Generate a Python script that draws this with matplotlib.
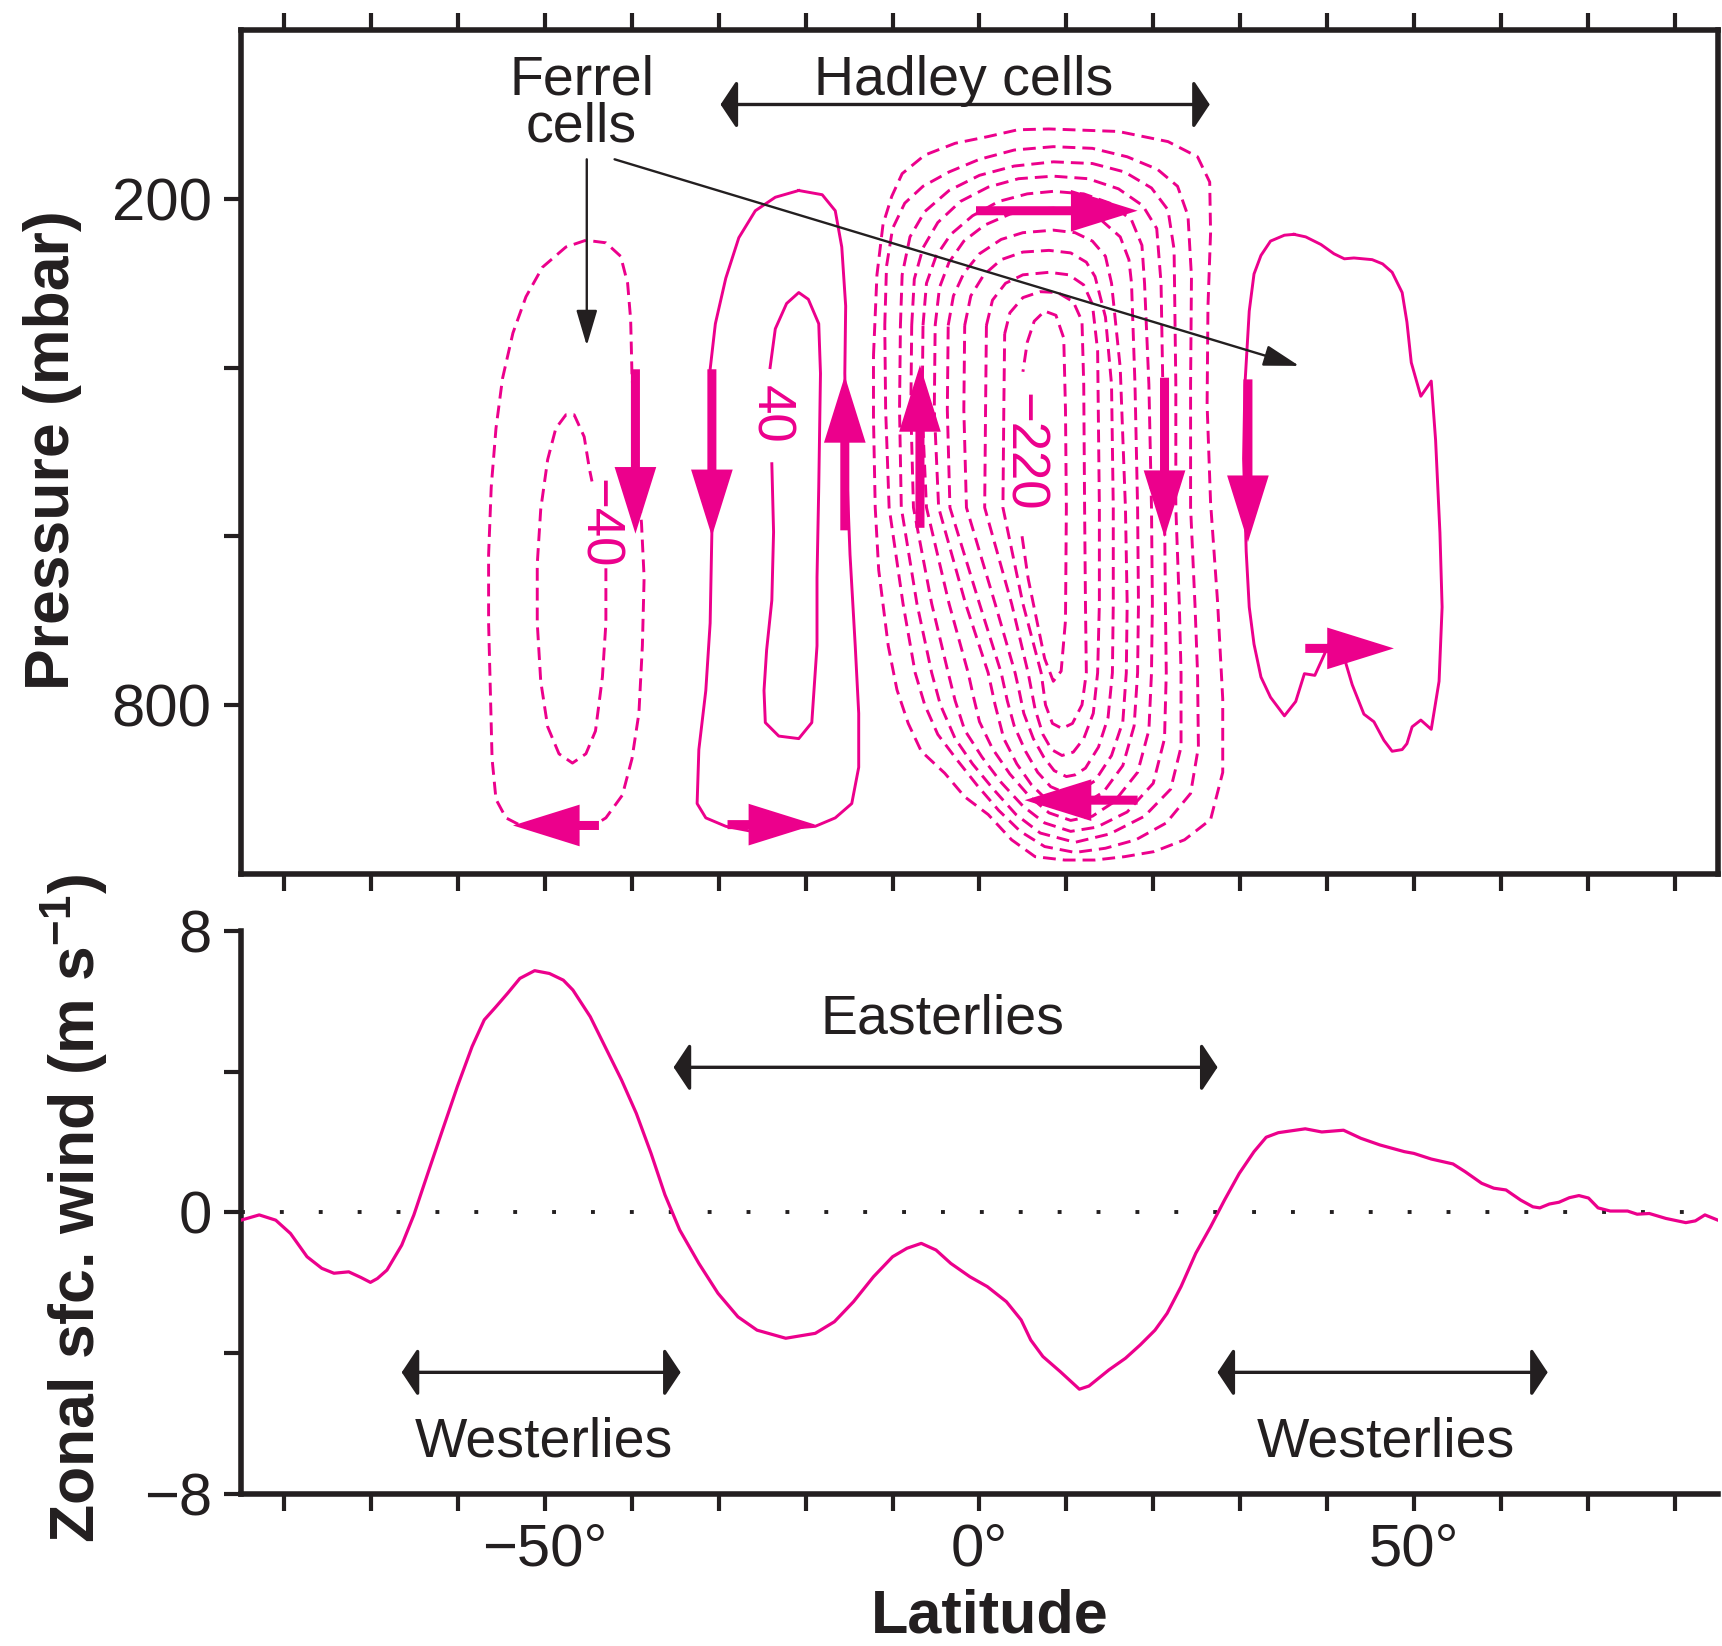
import numpy as np
import matplotlib.pyplot as plt
from matplotlib.patches import FancyArrowPatch

plt.rcParams['font.family'] = ['Liberation Sans', 'DejaVu Sans']
plt.rcParams['mathtext.fontset'] = 'custom'
plt.rcParams['mathtext.rm'] = 'Liberation Sans'
plt.rcParams['mathtext.bf'] = 'Liberation Sans:bold'

MAG = '#EC008C'
INK = '#231F20'

# lower panel: zonal surface wind (m/s) against latitude
wind_lat = [-85.0, -82.9, -81.0, -79.3, -77.4, -75.7, -74.3, -72.6, -71.2, -70.1,
            -69.3, -68.2, -66.5, -65.1, -63.5, -61.8, -60.1, -58.4, -57.0, -55.7,
            -54.3, -52.9, -51.2, -49.5, -47.9, -46.8, -44.8, -42.9, -41.2, -39.5,
            -37.8, -36.2, -34.5, -32.3, -30.1, -27.8, -25.6, -22.3, -18.9, -16.7,
            -14.5, -12.2, -10.0, -8.35, -6.7, -5.0, -3.3, -1.1, 0.9, 3.1,
            4.8, 5.9, 7.3, 9.3, 11.5, 12.6, 14.9, 16.8, 18.5, 20.2,
            21.6, 23.2, 24.9, 26.6, 28.2, 29.9, 31.6, 33.0, 34.4, 37.5,
            39.4, 41.9, 43.9, 46.1, 48.9, 50.0, 52.0, 54.5, 55.9, 57.8,
            59.2, 60.6, 62.3, 63.7, 64.5, 65.6, 66.7, 67.9, 69.0, 70.1,
            71.2, 72.6, 74.6, 75.7, 77.1, 79.0, 81.3, 82.4, 83.5, 85.0]
wind_u = [-0.22, -0.07, -0.22, -0.6, -1.26, -1.59, -1.73, -1.69, -1.85, -1.99,
          -1.88, -1.64, -0.93, -0.07, 1.11, 2.35, 3.58, 4.72, 5.48, 5.84,
          6.24, 6.66, 6.88, 6.80, 6.61, 6.33, 5.57, 4.62, 3.77, 2.82,
          1.68, 0.50, -0.5, -1.45, -2.30, -2.97, -3.35, -3.58, -3.44, -3.11,
          -2.54, -1.83, -1.26, -1.02, -0.88, -1.07, -1.45, -1.83, -2.11, -2.54,
          -3.06, -3.63, -4.1, -4.53, -5.03, -4.94, -4.48, -4.15, -3.77, -3.35,
          -2.87, -2.11, -1.16, -0.41, 0.35, 1.11, 1.73, 2.14, 2.27, 2.38,
          2.29, 2.34, 2.11, 1.92, 1.73, 1.68, 1.52, 1.38, 1.16, 0.83,
          0.69, 0.64, 0.35, 0.16, 0.13, 0.24, 0.29, 0.42, 0.48, 0.41,
          0.13, 0.04, 0.04, -0.05, -0.03, -0.17, -0.29, -0.24, -0.07, -0.22]

# upper panel: streamfunction contours traced as (latitude, pressure in mbar)
ferrel_s_outer = [(-45.3, 249), (-47.6, 257), (-50.3, 281), (-52.2, 316), (-53.7, 359),
                  (-54.9, 413), (-55.65, 472), (-56.2, 542), (-56.5, 622), (-56.5, 703),
                  (-56.3, 783), (-56.1, 864), (-55.65, 912), (-54.5, 934), (-53.0, 942),
                  (-50.3, 947), (-47.2, 950), (-44.55, 944), (-43.0, 934), (-41.1, 907),
                  (-40.0, 864), (-39.2, 810), (-38.8, 730), (-38.6, 649), (-38.9, 585),
                  (-39.6, 488), (-40.0, 407), (-40.15, 343), (-40.5, 300), (-41.3, 268),
                  (-43.0, 252)]
ferrel_s_inner = [(-43.0, 638), (-43.0, 703), (-43.4, 767), (-44.2, 831), (-45.3, 858),
                  (-46.85, 869), (-48.4, 858), (-49.7, 826), (-50.5, 772), (-50.9, 703),
                  (-50.9, 633), (-50.5, 568), (-49.7, 509), (-48.76, 472), (-47.6, 456),
                  (-46.65, 456), (-45.5, 482), (-44.9, 520), (-44.6, 535)]
hadley_s_outer = [(-20.8, 190), (-23.5, 198), (-25.8, 214), (-27.7, 246), (-29.2, 294),
                  (-30.4, 348), (-31.0, 402), (-31.0, 488), (-30.8, 595), (-31.0, 703),
                  (-31.5, 783), (-32.3, 853), (-32.5, 917), (-31.5, 934), (-29.2, 944),
                  (-26.2, 950), (-22.4, 947), (-18.9, 944), (-16.6, 934), (-14.7, 917),
                  (-13.9, 874), (-13.9, 810), (-14.3, 730), (-14.9, 622), (-15.3, 515),
                  (-15.5, 407), (-15.4, 327), (-15.85, 257), (-16.6, 214), (-18.1, 195)]
hadley_s_inner = [(-23.9, 514), (-23.7, 595), (-23.9, 676), (-24.5, 735), (-24.8, 783),
                  (-24.65, 821), (-23.1, 837), (-20.8, 840), (-19.3, 821), (-18.7, 730),
                  (-18.7, 649), (-18.5, 542), (-18.3, 407), (-18.5, 348), (-19.7, 319),
                  (-20.8, 311), (-22.2, 324), (-23.5, 354), (-24.1, 400)]
hadley_n = [
    [(-12.2, 386), (-11.8, 290), (-11.1, 230), (-10.1, 197), (-8.9, 170), (-6.3, 148),
     (-2.8, 134), (1.0, 126), (4.4, 118), (8.0, 117), (16.0, 120), (21.7, 132),
     (25.1, 150), (26.5, 180), (26.6, 240), (26.3, 327), (26.2, 444), (26.6, 560),
     (27.4, 677), (28.0, 793), (28.0, 880), (26.6, 936), (23.6, 960), (20.1, 974),
     (16.7, 980), (13.3, 984), (9.8, 984), (6.4, 980), (3.7, 960), (1.0, 930),
     (-1.7, 909), (-4.0, 881), (-6.7, 855), (-8.2, 822), (-9.5, 782), (-10.5, 730),
     (-11.6, 640), (-12.0, 566), (-12.2, 460)],
    [(-10.9, 350), (-10.7, 280), (-10.0, 235), (-8.6, 205), (-6.5, 185), (-3.5, 168),
     (0.0, 153), (4.0, 142), (8.5, 138), (13.0, 140), (17.0, 150), (20.5, 165),
     (22.8, 185), (24.0, 220), (24.4, 292), (24.3, 420), (24.3, 566), (24.8, 680),
     (25.1, 762), (25.2, 850), (24.3, 905), (21.5, 940), (18.0, 960), (14.5, 970),
     (11.0, 975), (7.5, 968), (4.7, 950), (2.2, 925), (-0.3, 895), (-2.6, 865),
     (-4.8, 835), (-6.3, 800), (-7.4, 762), (-8.8, 680), (-10.4, 566), (-10.8, 450)],
    [(-9.1, 350), (-8.9, 290), (-8.0, 245), (-6.3, 215), (-3.5, 190), (0.0, 172),
     (4.0, 161), (8.5, 156), (13.0, 158), (16.7, 168), (19.8, 187), (21.7, 213),
     (22.4, 260), (22.6, 420), (22.6, 566), (23.0, 680), (23.2, 762), (23.2, 850),
     (22.0, 900), (19.0, 932), (15.0, 953), (11.0, 963), (7.0, 952), (4.2, 930),
     (1.6, 900), (-0.8, 870), (-2.8, 840), (-4.5, 800), (-5.5, 762), (-7.2, 680),
     (-9.0, 566), (-9.2, 450)],
    [(-7.8, 350), (-7.5, 295), (-6.5, 258), (-4.8, 228), (-2.2, 203), (1.0, 186),
     (4.5, 176), (8.5, 173), (12.5, 176), (16.0, 188), (18.8, 208), (20.4, 235),
     (20.9, 300), (21.1, 420), (21.3, 566), (21.4, 680), (21.5, 762), (21.3, 840),
     (20.0, 893), (17.0, 927), (13.5, 945), (10.5, 950), (7.5, 940), (5.0, 920),
     (2.5, 892), (0.3, 862), (-1.7, 830), (-2.8, 795), (-3.6, 762), (-5.5, 680),
     (-7.6, 566), (-7.9, 450)],
    [(-6.5, 350), (-6.1, 300), (-5.0, 268), (-3.3, 242), (-0.8, 220), (2.2, 203),
     (5.5, 194), (8.5, 191), (12.0, 194), (15.0, 205), (17.5, 225), (18.7, 255),
     (19.0, 300), (19.5, 420), (19.8, 566), (19.9, 680), (19.8, 762), (19.5, 830),
     (18.2, 880), (15.5, 915), (13.0, 932), (10.5, 937), (8.0, 928), (5.7, 908),
     (3.5, 882), (1.5, 852), (0.0, 820), (-0.7, 790), (-1.3, 762), (-3.5, 680),
     (-6.1, 566), (-6.6, 450)],
    [(-5.1, 350), (-4.6, 305), (-3.5, 275), (-1.8, 250), (0.6, 231), (3.5, 218),
     (6.0, 212), (8.5, 211), (11.5, 214), (14.0, 225), (16.2, 245), (17.2, 272),
     (17.5, 300), (17.9, 420), (18.2, 566), (18.3, 680), (18.2, 762), (17.8, 825),
     (16.5, 872), (14.3, 903), (12.0, 918), (10.0, 922), (7.8, 913), (6.0, 895),
     (4.3, 870), (2.8, 840), (1.8, 800), (1.0, 762), (-1.6, 680), (-4.7, 566),
     (-5.2, 450)],
    [(-3.6, 350), (-3.0, 315), (-1.8, 288), (0.0, 265), (2.5, 248), (5.0, 240),
     (8.5, 237), (11.0, 240), (13.0, 250), (14.5, 268), (15.2, 300), (16.2, 400),
     (16.8, 566), (17.0, 680), (16.9, 762), (16.5, 820), (15.2, 860), (13.3, 890),
     (11.5, 902), (10.0, 905), (8.2, 897), (6.7, 880), (5.3, 855), (4.0, 825),
     (3.2, 795), (2.5, 762), (0.0, 680), (-3.4, 566), (-3.7, 450)],
    [(-1.7, 350), (-1.0, 315), (0.5, 290), (2.5, 272), (5.0, 263), (8.0, 261),
     (10.5, 264), (12.3, 275), (13.3, 292), (14.5, 340), (15.2, 420), (15.4, 566),
     (15.4, 680), (15.3, 762), (14.8, 815), (13.7, 850), (12.2, 875), (11.0, 883),
     (10.0, 885), (8.6, 878), (7.4, 862), (6.2, 840), (5.1, 810), (4.6, 785),
     (4.1, 762), (1.8, 680), (-1.5, 566), (-1.8, 450)],
    [(0.8, 350), (1.5, 320), (3.0, 300), (5.0, 290), (8.0, 287), (10.3, 290),
     (12.0, 302), (13.0, 325), (13.6, 380), (13.8, 566), (13.8, 680), (13.6, 762),
     (13.1, 810), (12.0, 840), (10.8, 856), (9.5, 860), (8.3, 853), (7.3, 835),
     (6.4, 805), (5.6, 762), (3.7, 680), (0.6, 566), (0.7, 450)],
    [(2.9, 360), (3.5, 335), (5.0, 317), (7.0, 310), (9.0, 311), (10.8, 322),
     (11.8, 345), (12.0, 420), (12.1, 566), (12.2, 680), (12.3, 762), (11.8, 800),
     (10.7, 822), (9.5, 828), (8.4, 822), (7.6, 800), (7.1, 762), (5.0, 680),
     (2.7, 566), (2.8, 450)],
    [(4.9, 600), (5.6, 650), (6.6, 700), (7.5, 745), (8.5, 772), (9.4, 760),
     (9.9, 700), (10.0, 566), (9.9, 450), (9.7, 365), (8.8, 338), (7.5, 333),
     (6.3, 345), (5.5, 370), (5.0, 405)],
]
ferrel_n = [(36.2, 242), (37.55, 245), (39.3, 254), (40.8, 265), (42.0, 271), (43.1, 270),
            (45.2, 272), (46.4, 277), (47.5, 287), (48.65, 311), (49.2, 346), (49.7, 394),
            (50.8, 434), (52.0, 416), (52.5, 486), (53.0, 596), (53.25, 684), (52.9, 772),
            (52.0, 829), (50.8, 818), (49.8, 826), (49.2, 846), (48.65, 853), (47.5, 855),
            (46.55, 842), (45.4, 820), (44.25, 811), (42.9, 776), (42.15, 750), (40.8, 715),
            (38.6, 765), (37.4, 763), (36.4, 796), (35.1, 813), (33.5, 791), (32.4, 767),
            (31.6, 728), (31.05, 684), (30.7, 618), (30.4, 508), (30.55, 421), (31.05, 333),
            (31.6, 289), (32.4, 267), (33.5, 250), (35.1, 243)]

contour_labels = [('\u221240', -43.9, 585), ('40', -24.1, 456), ('\u2212220', 4.95, 500)]

# magenta circulation arrows: (lat start, p start, lat end, p end)
flow_arrows = [(-39.6, 402, -39.6, 597), (-30.8, 402, -30.8, 600), (-15.5, 593, -15.5, 410),
               (-6.85, 590, -6.85, 397), (21.3, 412, 21.3, 601), (30.9, 414, 30.9, 607),
               (-0.4, 214, 18.2, 214), (18.2, 913, 5.2, 913), (-43.8, 943, -53.7, 943),
               (-29.0, 942, -18.9, 942), (37.5, 733, 47.7, 733)]

ferrel_pointers = [(-45.2, 153, -45.2, 374), (-42.0, 153, 36.8, 398)]
hadley_span = (-29.8, 26.5, 88)
top_words = [('Ferrel', -45.7, 76), ('cells', -45.8, 132), ('Hadley cells', -1.8, 77)]

wind_spans = [(-35.2, 27.4, 4.13), (-66.5, -34.4, -4.55), (27.4, 65.4, -4.55)]
wind_words = [('Easterlies', -4.3, 5.09), ('Westerlies', -50.1, -6.94), ('Westerlies', 46.8, -6.94)]


def draw_contour(ax, pts, dashed, closed=True):
    arr = np.array(pts, dtype=float)
    if closed:
        arr = np.vstack([arr, arr[:1]])
    ls = (0, (4.4, 2.4)) if dashed else '-'
    ax.plot(arr[:, 0], arr[:, 1], color=MAG, lw=2.1, ls=ls,
            solid_joinstyle='round', zorder=2)


def span_arrow(ax, x0, x1, y):
    ax.annotate('', xy=(x1, y), xytext=(x0, y),
                arrowprops=dict(arrowstyle='<|-|>,head_length=1.0,head_width=1.5',
                                mutation_scale=10, lw=2.4, color=INK,
                                shrinkA=0, shrinkB=0), zorder=5)


fig = plt.figure(figsize=(17.22, 16.46), dpi=100)
ax1 = fig.add_axes([0.13995, 0.4693, 0.8577, 0.5123])
ax2 = fig.add_axes([0.13995, 0.0926, 0.8577, 0.3416])

# ---- top panel
draw_contour(ax1, ferrel_s_outer, True)
draw_contour(ax1, ferrel_s_inner, True, closed=False)
draw_contour(ax1, hadley_s_outer, False)
draw_contour(ax1, hadley_s_inner, False, closed=False)
for i, c in enumerate(hadley_n):
    draw_contour(ax1, c, True, closed=(i < len(hadley_n) - 1))
draw_contour(ax1, ferrel_n, False)

for txt, x, y in contour_labels:
    ax1.text(x, y, txt, color=MAG, fontsize=38, rotation=-90,
             ha='center', va='center', zorder=3)

for x0, y0, x1, y1 in flow_arrows:
    ax1.add_patch(FancyArrowPatch((x0, y0), (x1, y1),
                                  arrowstyle='simple,head_length=48,head_width=30,tail_width=6.5',
                                  mutation_scale=1, color=MAG, lw=0,
                                  shrinkA=0, shrinkB=0, zorder=4))

for x0, y0, x1, y1 in ferrel_pointers:
    ax1.annotate('', xy=(x1, y1), xytext=(x0, y0),
                 arrowprops=dict(arrowstyle='-|>,head_length=2.2,head_width=0.65',
                                 mutation_scale=10, lw=1.7, color=INK,
                                 shrinkA=0, shrinkB=0), zorder=5)

span_arrow(ax1, hadley_span[0], hadley_span[1], hadley_span[2])
for txt, x, y in top_words:
    ax1.text(x, y, txt, fontsize=40, color=INK, ha='center', va='baseline')

ax1.set_xlim(-85, 85)
ax1.set_ylim(1000, 0)
ax1.set_xticks(np.arange(-80, 81, 10))
ax1.set_yticks([200, 400, 600, 800])
ax1.set_yticklabels(['200', '', '', '800'])
ax1.tick_params(axis='x', top=True, bottom=True, labelbottom=False,
                direction='out', length=12, width=3, color=INK)
ax1.tick_params(axis='y', left=True, right=False, direction='out', length=12,
                width=3, color=INK, labelsize=43, pad=9, labelcolor=INK)
for s in ax1.spines.values():
    s.set_linewidth(4)
    s.set_color(INK)
    s.set_capstyle('projecting')
ax1.text(-0.1165, 0.502, 'Pressure (mbar)', transform=ax1.transAxes, rotation=90,
         rotation_mode='anchor', ha='center', va='baseline', fontsize=45,
         fontweight='bold', color=INK)

# ---- bottom panel
ax2.axhline(0, color=INK, lw=2.8, ls=(0, (1, 9)), zorder=1)
ax2.plot(wind_lat, wind_u, color=MAG, lw=2.3, zorder=3)
for x0, x1, y in wind_spans:
    span_arrow(ax2, x0, x1, y)
for txt, x, y in wind_words:
    ax2.text(x, y, txt, fontsize=40, color=INK, ha='center', va='baseline')

ax2.set_xlim(-85, 85)
ax2.set_ylim(-8, 8)
xt = np.arange(-80, 81, 10)
names = {-50: '\u221250\u00b0', 0: '0\u00b0', 50: '50\u00b0'}
ax2.set_xticks(xt)
ax2.set_xticklabels([names.get(int(v), '') for v in xt])
ax2.set_yticks([-8, -4, 0, 4, 8])
ax2.set_yticklabels(['\u22128', '', '0', '', '8'])
ax2.tick_params(axis='x', direction='out', length=12, width=3, color=INK,
                labelsize=43, pad=9, labelcolor=INK)
ax2.tick_params(axis='y', direction='out', length=12, width=3, color=INK,
                labelsize=43, pad=9, labelcolor=INK)
ax2.spines['top'].set_visible(False)
ax2.spines['right'].set_visible(False)
for side in ('left', 'bottom'):
    ax2.spines[side].set_linewidth(4)
    ax2.spines[side].set_color(INK)
    ax2.spines[side].set_capstyle('projecting')
ax2.text(-0.0985, 0.508, r'Zonal sfc. wind (m s$^{\mathbf{-1}}$)', transform=ax2.transAxes,
         rotation=90, rotation_mode='anchor', ha='center', va='baseline',
         fontsize=45, fontweight='bold', color=INK)
ax2.text(1.2, -0.247, 'Latitude', transform=ax2.get_xaxis_transform(),
         ha='center', va='baseline', fontsize=44, fontweight='bold', color=INK)

fig.savefig('out.png', dpi=100)
